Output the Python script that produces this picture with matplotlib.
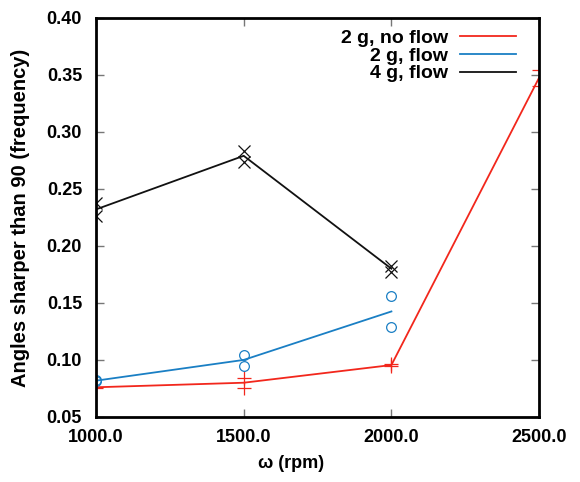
import numpy as np
import matplotlib.pyplot as plt

plt.rcParams['font.family'] = ['Liberation Sans', 'DejaVu Sans']
plt.rcParams['font.weight'] = 'bold'

# individual runs (markers)
rpm_noflow_pts = [1000, 1000, 1500, 1500, 2000, 2000, 2500, 2500]
val_noflow_pts = [0.0755, 0.0765, 0.084, 0.0755, 0.0960, 0.0945, 0.3545, 0.3405]
rpm_flow2_pts = [1000, 1000, 1500, 1500, 2000, 2000]
val_flow2_pts = [0.0820, 0.0815, 0.1045, 0.0950, 0.1560, 0.1290]
rpm_flow4_pts = [1000, 1000, 1500, 1500, 2000, 2000]
val_flow4_pts = [0.2380, 0.2260, 0.2835, 0.2740, 0.1825, 0.1775]

# means (lines)
rpm_noflow = [1000, 1500, 2000, 2500]
mean_noflow = [0.0760, 0.0800, 0.0955, 0.3475]
rpm_flow2 = [1000, 1500, 2000]
mean_flow2 = [0.0818, 0.1000, 0.1425]
rpm_flow4 = [1000, 1500, 2000]
mean_flow4 = [0.2320, 0.2790, 0.1800]

red = '#f2271c'
blue = '#1a7fc4'
black = '#111111'

fig = plt.figure(figsize=(5.8, 4.82), dpi=100)
ax = fig.add_axes([0.1655, 0.135, 0.764, 0.828])

ax.plot(rpm_noflow, mean_noflow, color=red, lw=1.3, label='2 g, no flow')
ax.plot(rpm_flow2, mean_flow2, color=blue, lw=1.3, label='2 g, flow')
ax.plot(rpm_flow4, mean_flow4, color=black, lw=1.3, label='4 g, flow')

ax.plot(rpm_noflow_pts, val_noflow_pts, ls='none', marker='+', ms=10, mew=0.9, color=red)
ax.plot(rpm_flow2_pts, val_flow2_pts, ls='none', marker='o', ms=7, mew=0.9, mfc='none', color=blue)
ax.plot(rpm_flow4_pts, val_flow4_pts, ls='none', marker='x', ms=8, mew=0.9, color=black)

ax.set_xlim(1000, 2500)
ax.set_ylim(0.05, 0.40)
ax.set_xticks([1000, 1500, 2000, 2500])
ax.set_xticklabels(['1000.0', '1500.0', '2000.0', '2500.0'])
ax.set_yticks(np.arange(0.05, 0.401, 0.05))
ax.set_yticklabels(['0.05', '0.10', '0.15', '0.20', '0.25', '0.30', '0.35', '0.40'])
ax.tick_params(direction='in', length=6, width=1, color='#777777', labelsize=13,
               top=True, right=True)
ax.tick_params(axis='y', pad=10)
ax.tick_params(axis='x', pad=9)
for s in ax.spines.values():
    s.set_linewidth(2)

ax.set_xlabel('ω (rpm)', fontsize=13, fontweight='bold', labelpad=12)
ax.xaxis.set_label_coords(0.44, -0.095)
ax.set_ylabel('Angles sharper than 90 (frequency)', fontsize=14.5, fontweight='bold', labelpad=12)

ax.legend(loc='upper right', frameon=False, markerfirst=False, fontsize=14,
          handlelength=2.9, handletextpad=0.6, labelspacing=0.0,
          borderaxespad=0.2, bbox_to_anchor=(0.975, 1.0))
for t in ax.get_legend().get_texts():
    t.set_ha('right')

fig.savefig('out.png', dpi=100)
